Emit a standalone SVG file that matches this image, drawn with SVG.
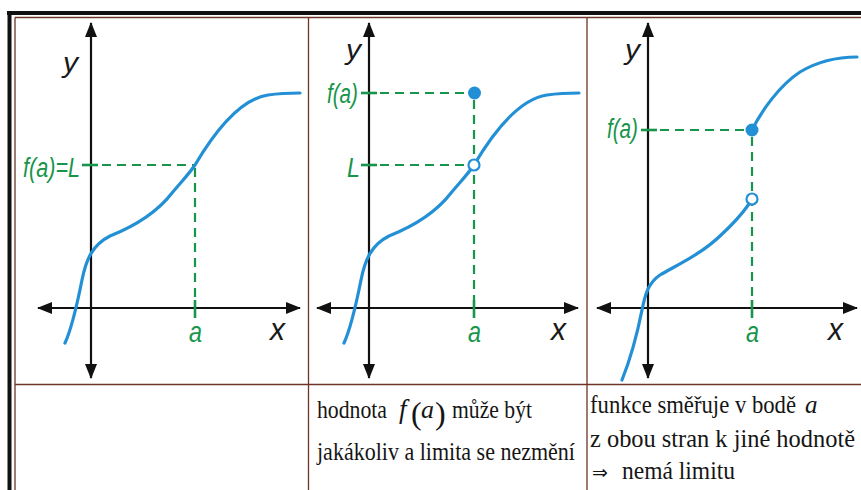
<svg xmlns="http://www.w3.org/2000/svg" width="861" height="490" viewBox="0 0 861 490">
<defs>
<marker id="arr" viewBox="0 0 15 12" markerWidth="15" markerHeight="12" refX="14" refY="6" orient="auto-start-reverse" markerUnits="userSpaceOnUse">
<path d="M0,0 L15,6 L0,12 z" fill="#111"/>
</marker>
<path id="curve1" d="M65,343 C72,328 78,300 82,280 C86,260 92,245 110,236 C130,228 155,215 172,193 C182,181 189,174 195,165 C208,143 235,100 268,95 C282,93 292,93 300,93"/>
</defs>
<style>
.frame{stroke:#111;stroke-width:4;fill:none}
.grid{stroke:#6e3426;stroke-width:1.3;fill:none}
.axis{stroke:#111;stroke-width:2.2;fill:none;marker-start:url(#arr);marker-end:url(#arr)}
.crv{stroke:#2390d6;stroke-width:3.2;fill:none;stroke-linecap:round}
.dash{stroke:#17954a;stroke-width:2.2;stroke-dasharray:9 6;fill:none}
.tick{stroke:#17954a;stroke-width:2.6;fill:none}
.lbl{font-family:"Liberation Sans",Arial,sans-serif;font-style:italic;fill:#17954a}
.ax{font-family:"Liberation Sans",Arial,sans-serif;font-style:italic;fill:#1a1a1a}
.txt{font-family:"Liberation Serif","Times New Roman",serif;fill:#151515}
.dot{fill:#2390d6}
.hole{fill:#fff;stroke:#2390d6;stroke-width:2.2}
</style>
<rect width="861" height="490" fill="#fff"/>
<g id="frame">
<line class="frame" x1="7" y1="13" x2="861" y2="13"/>
<line class="frame" x1="9.5" y1="11" x2="9.5" y2="490"/>
<line class="grid" x1="15" y1="17.5" x2="861" y2="17.5"/>
<line class="grid" x1="15" y1="17.5" x2="15" y2="490"/>
<line class="grid" x1="308.5" y1="17.5" x2="308.5" y2="490"/>
<line class="grid" x1="587" y1="17.5" x2="587" y2="490"/>
<line class="grid" x1="15" y1="384.5" x2="861" y2="384.5"/>
</g>
<g id="panel1">
<line class="axis" x1="91" y1="378" x2="91" y2="23"/>
<line class="axis" x1="38" y1="308" x2="300" y2="308"/>
<line class="dash" x1="102" y1="165" x2="195" y2="165"/>
<line class="tick" x1="82" y1="165" x2="98" y2="165"/>
<line class="dash" x1="195" y1="168" x2="195" y2="300"/>
<line class="tick" x1="195" y1="300" x2="195" y2="318"/>
<use href="#curve1" class="crv"/>
<text class="ax" x="63" y="72" font-size="28" textLength="15" lengthAdjust="spacingAndGlyphs">y</text>
<text class="lbl" x="23" y="177" font-size="27" textLength="57" lengthAdjust="spacingAndGlyphs">f(a)=L</text>
<text class="lbl" x="189" y="342" font-size="29" textLength="13" lengthAdjust="spacingAndGlyphs">a</text>
<text class="ax" x="270" y="340" font-size="31" textLength="15" lengthAdjust="spacingAndGlyphs">x</text>
</g>
<g id="panel2">
<line class="axis" x1="369" y1="378" x2="369" y2="23"/>
<line class="axis" x1="317" y1="308" x2="578" y2="308"/>
<line class="dash" x1="380" y1="93" x2="468" y2="93"/>
<line class="tick" x1="361" y1="93" x2="377" y2="93"/>
<line class="dash" x1="380" y1="165" x2="468" y2="165"/>
<line class="tick" x1="361" y1="165" x2="377" y2="165"/>
<line class="dash" x1="474" y1="100" x2="474" y2="300"/>
<line class="tick" x1="474" y1="300" x2="474" y2="318"/>
<use href="#curve1" class="crv" transform="translate(279,0)"/>
<circle class="dot" cx="474.5" cy="93" r="6.5"/>
<circle class="hole" cx="474" cy="165" r="5.5"/>
<text class="ax" x="346" y="59" font-size="28" textLength="15" lengthAdjust="spacingAndGlyphs">y</text>
<text class="lbl" x="327" y="103" font-size="27" textLength="31" lengthAdjust="spacingAndGlyphs">f(a)</text>
<text class="lbl" x="347" y="177" font-size="27" textLength="13" lengthAdjust="spacingAndGlyphs">L</text>
<text class="lbl" x="468" y="342" font-size="29" textLength="13" lengthAdjust="spacingAndGlyphs">a</text>
<text class="ax" x="551" y="340" font-size="31" textLength="15" lengthAdjust="spacingAndGlyphs">x</text>
</g>
<g id="panel3">
<line class="axis" x1="648" y1="378" x2="648" y2="23"/>
<line class="axis" x1="597" y1="308" x2="857" y2="308"/>
<line class="dash" x1="660" y1="130" x2="746" y2="130"/>
<line class="tick" x1="641" y1="130" x2="657" y2="130"/>
<line class="dash" x1="752" y1="137" x2="752" y2="300"/>
<line class="tick" x1="752" y1="300" x2="752" y2="318"/>
<path class="crv" d="M622,380 C630,360 638,330 642,310 C645,295 648,283 660,275 C675,266 700,255 720,236 C732,225 742,214 749,204"/>
<path class="crv" d="M752,130 C762,110 780,85 800,72 C820,60 840,57 857,57"/>
<circle class="dot" cx="752" cy="130" r="6.5"/>
<circle class="hole" cx="752" cy="199" r="5.5"/>
<text class="ax" x="625" y="59" font-size="28" textLength="15" lengthAdjust="spacingAndGlyphs">y</text>
<text class="lbl" x="607" y="138" font-size="27" textLength="31" lengthAdjust="spacingAndGlyphs">f(a)</text>
<text class="lbl" x="746" y="342" font-size="29" textLength="13" lengthAdjust="spacingAndGlyphs">a</text>
<text class="ax" x="828" y="340" font-size="31" textLength="15" lengthAdjust="spacingAndGlyphs">x</text>
</g>
<g id="caption2">
<text class="txt" x="317" y="418" font-size="26" textLength="70" lengthAdjust="spacingAndGlyphs">hodnota</text>
<text class="txt" x="399" y="418" font-size="27" font-style="italic">f</text>
<text class="txt" x="411" y="424" font-size="32">(</text>
<text class="txt" x="421" y="418" font-size="26" font-style="italic">a</text>
<text class="txt" x="435" y="424" font-size="32">)</text>
<text class="txt" x="452" y="418" font-size="26" textLength="80" lengthAdjust="spacingAndGlyphs">může být</text>
<text class="txt" x="317" y="460" font-size="26" textLength="258" lengthAdjust="spacingAndGlyphs">jakákoliv a limita se nezmění</text>
</g>
<g id="caption3">
<text class="txt" x="590" y="413" font-size="25" textLength="206" lengthAdjust="spacingAndGlyphs">funkce směřuje v bodě</text>
<text class="txt" x="805" y="413" font-size="25" font-style="italic">a</text>
<text class="txt" x="590" y="447" font-size="25" textLength="265" lengthAdjust="spacingAndGlyphs">z obou stran k jiné hodnotě</text>
<text class="txt" x="592" y="479" font-size="19" font-family="'DejaVu Serif',serif">⇒</text>
<text class="txt" x="622" y="479" font-size="25" textLength="113" lengthAdjust="spacingAndGlyphs">nemá limitu</text>
</g>
</svg>
